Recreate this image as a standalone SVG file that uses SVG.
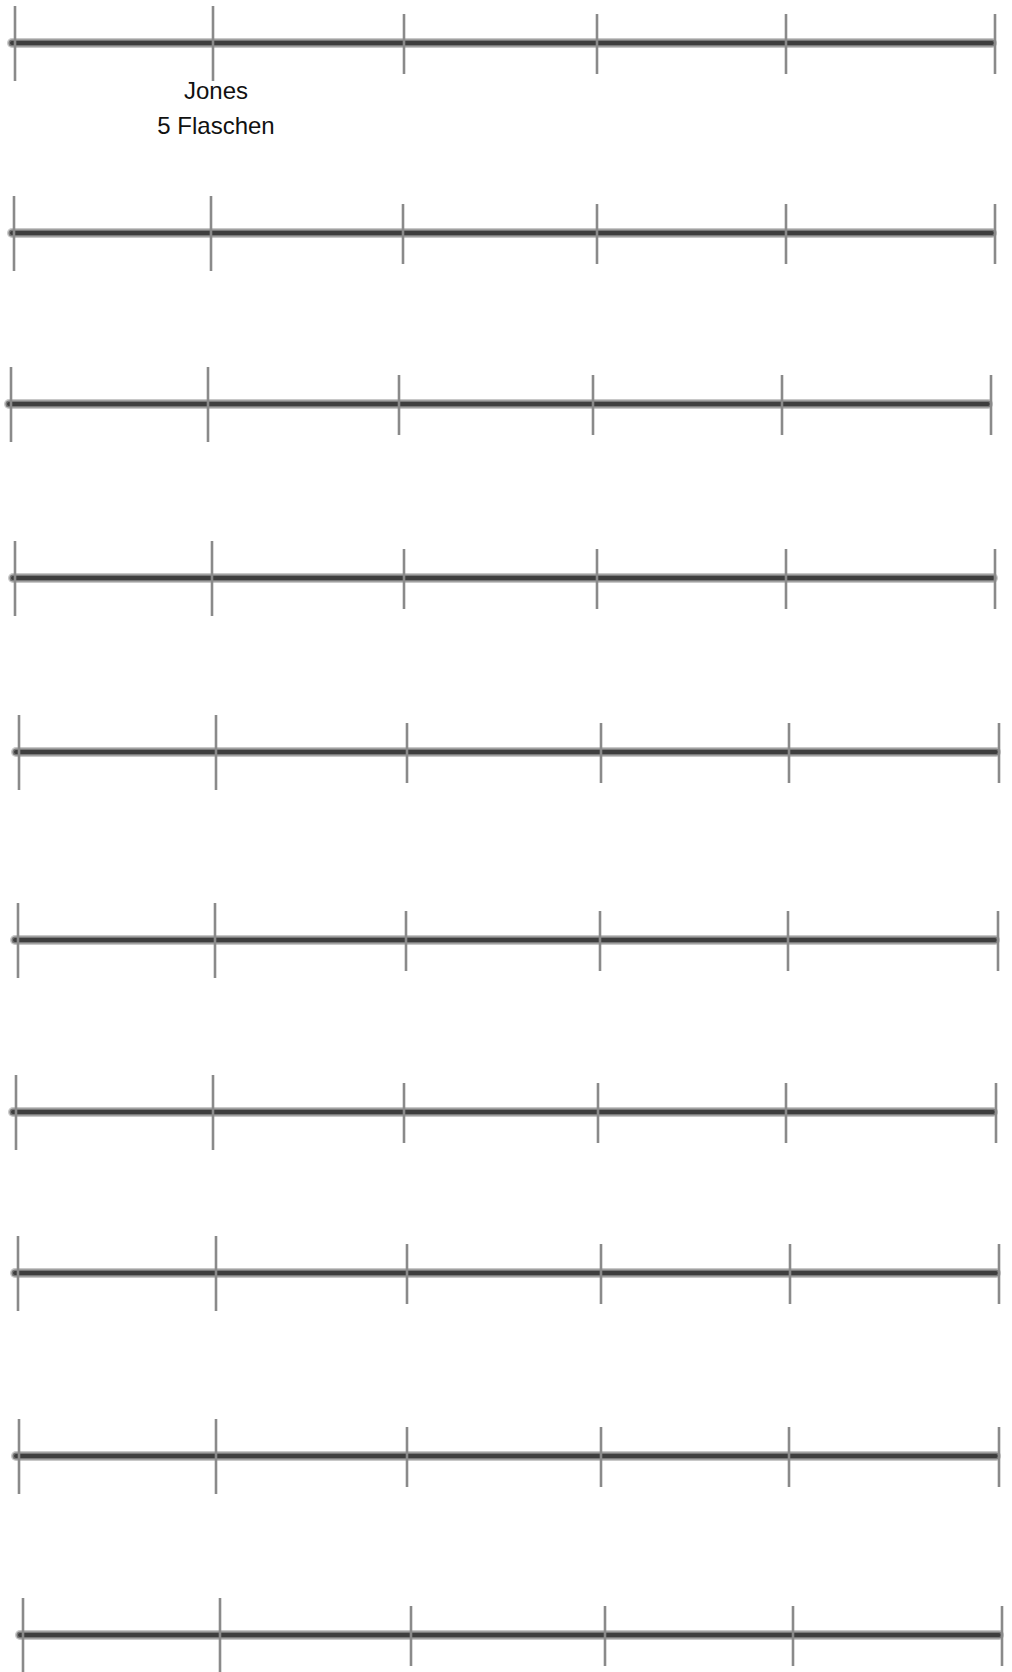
<svg xmlns="http://www.w3.org/2000/svg" width="1012" height="1672" viewBox="0 0 1012 1672">
<defs>
<style>
.halo{stroke:#c8c8c8;stroke-width:10;stroke-linecap:round;fill:none}
.mid{stroke:#7a7a7a;stroke-width:7;stroke-linecap:round;fill:none}
.core{stroke:#3e3e3e;stroke-width:4;stroke-linecap:round;fill:none}
.tick{stroke:#8a8a8a;stroke-width:2.6;fill:none}
.lbl{font-family:"Comic Sans MS","Liberation Sans",Arial,sans-serif;font-size:24px;fill:#111;text-anchor:middle}
</style>
</defs>
<rect width="1012" height="1672" fill="#ffffff"/>
<g id="line1">
<line class="halo" x1="12" y1="43" x2="992" y2="43"/><line class="mid" x1="12" y1="43" x2="992" y2="43"/><line class="core" x1="12" y1="43" x2="992" y2="43"/>
<line class="tick" x1="15" y1="6" x2="15" y2="81"/><line class="tick" x1="213" y1="6" x2="213" y2="81"/><line class="tick" x1="404" y1="14" x2="404" y2="74"/><line class="tick" x1="597" y1="14" x2="597" y2="74"/><line class="tick" x1="786" y1="14" x2="786" y2="74"/><line class="tick" x1="995" y1="14" x2="995" y2="74"/>
</g>
<g id="label1">
<text class="lbl" x="216" y="99">Jones</text>
<text class="lbl" x="216" y="134">5 Flaschen</text>
</g>
<g id="line2">
<line class="halo" x1="12" y1="233" x2="992" y2="233"/><line class="mid" x1="12" y1="233" x2="992" y2="233"/><line class="core" x1="12" y1="233" x2="992" y2="233"/>
<line class="tick" x1="14" y1="196" x2="14" y2="271"/><line class="tick" x1="211" y1="196" x2="211" y2="271"/><line class="tick" x1="403" y1="204" x2="403" y2="264"/><line class="tick" x1="597" y1="204" x2="597" y2="264"/><line class="tick" x1="786" y1="204" x2="786" y2="264"/><line class="tick" x1="995" y1="204" x2="995" y2="264"/>
</g>
<g id="line3">
<line class="halo" x1="9" y1="404" x2="988" y2="404"/><line class="mid" x1="9" y1="404" x2="988" y2="404"/><line class="core" x1="9" y1="404" x2="988" y2="404"/>
<line class="tick" x1="11" y1="367" x2="11" y2="442"/><line class="tick" x1="208" y1="367" x2="208" y2="442"/><line class="tick" x1="399" y1="375" x2="399" y2="435"/><line class="tick" x1="593" y1="375" x2="593" y2="435"/><line class="tick" x1="782" y1="375" x2="782" y2="435"/><line class="tick" x1="991" y1="375" x2="991" y2="435"/>
</g>
<g id="line4">
<line class="halo" x1="13" y1="578" x2="993" y2="578"/><line class="mid" x1="13" y1="578" x2="993" y2="578"/><line class="core" x1="13" y1="578" x2="993" y2="578"/>
<line class="tick" x1="15" y1="541" x2="15" y2="616"/><line class="tick" x1="212" y1="541" x2="212" y2="616"/><line class="tick" x1="404" y1="549" x2="404" y2="609"/><line class="tick" x1="597" y1="549" x2="597" y2="609"/><line class="tick" x1="786" y1="549" x2="786" y2="609"/><line class="tick" x1="995" y1="549" x2="995" y2="609"/>
</g>
<g id="line5">
<line class="halo" x1="16" y1="752" x2="996" y2="752"/><line class="mid" x1="16" y1="752" x2="996" y2="752"/><line class="core" x1="16" y1="752" x2="996" y2="752"/>
<line class="tick" x1="19" y1="715" x2="19" y2="790"/><line class="tick" x1="216" y1="715" x2="216" y2="790"/><line class="tick" x1="407" y1="723" x2="407" y2="783"/><line class="tick" x1="601" y1="723" x2="601" y2="783"/><line class="tick" x1="789" y1="723" x2="789" y2="783"/><line class="tick" x1="999" y1="723" x2="999" y2="783"/>
</g>
<g id="line6">
<line class="halo" x1="15" y1="940" x2="995" y2="940"/><line class="mid" x1="15" y1="940" x2="995" y2="940"/><line class="core" x1="15" y1="940" x2="995" y2="940"/>
<line class="tick" x1="18" y1="903" x2="18" y2="978"/><line class="tick" x1="215" y1="903" x2="215" y2="978"/><line class="tick" x1="406" y1="911" x2="406" y2="971"/><line class="tick" x1="600" y1="911" x2="600" y2="971"/><line class="tick" x1="788" y1="911" x2="788" y2="971"/><line class="tick" x1="998" y1="911" x2="998" y2="971"/>
</g>
<g id="line7">
<line class="halo" x1="13" y1="1112" x2="993" y2="1112"/><line class="mid" x1="13" y1="1112" x2="993" y2="1112"/><line class="core" x1="13" y1="1112" x2="993" y2="1112"/>
<line class="tick" x1="16" y1="1075" x2="16" y2="1150"/><line class="tick" x1="213" y1="1075" x2="213" y2="1150"/><line class="tick" x1="404" y1="1083" x2="404" y2="1143"/><line class="tick" x1="598" y1="1083" x2="598" y2="1143"/><line class="tick" x1="786" y1="1083" x2="786" y2="1143"/><line class="tick" x1="996" y1="1083" x2="996" y2="1143"/>
</g>
<g id="line8">
<line class="halo" x1="15" y1="1273" x2="996" y2="1273"/><line class="mid" x1="15" y1="1273" x2="996" y2="1273"/><line class="core" x1="15" y1="1273" x2="996" y2="1273"/>
<line class="tick" x1="18" y1="1236" x2="18" y2="1311"/><line class="tick" x1="216" y1="1236" x2="216" y2="1311"/><line class="tick" x1="407" y1="1244" x2="407" y2="1304"/><line class="tick" x1="601" y1="1244" x2="601" y2="1304"/><line class="tick" x1="790" y1="1244" x2="790" y2="1304"/><line class="tick" x1="999" y1="1244" x2="999" y2="1304"/>
</g>
<g id="line9">
<line class="halo" x1="16" y1="1456" x2="996" y2="1456"/><line class="mid" x1="16" y1="1456" x2="996" y2="1456"/><line class="core" x1="16" y1="1456" x2="996" y2="1456"/>
<line class="tick" x1="19" y1="1419" x2="19" y2="1494"/><line class="tick" x1="216" y1="1419" x2="216" y2="1494"/><line class="tick" x1="407" y1="1427" x2="407" y2="1487"/><line class="tick" x1="601" y1="1427" x2="601" y2="1487"/><line class="tick" x1="789" y1="1427" x2="789" y2="1487"/><line class="tick" x1="999" y1="1427" x2="999" y2="1487"/>
</g>
<g id="line10">
<line class="halo" x1="20" y1="1635" x2="999" y2="1635"/><line class="mid" x1="20" y1="1635" x2="999" y2="1635"/><line class="core" x1="20" y1="1635" x2="999" y2="1635"/>
<line class="tick" x1="23" y1="1598" x2="23" y2="1673"/><line class="tick" x1="220" y1="1598" x2="220" y2="1673"/><line class="tick" x1="411" y1="1606" x2="411" y2="1666"/><line class="tick" x1="605" y1="1606" x2="605" y2="1666"/><line class="tick" x1="793" y1="1606" x2="793" y2="1666"/><line class="tick" x1="1002" y1="1606" x2="1002" y2="1666"/>
</g>
</svg>
